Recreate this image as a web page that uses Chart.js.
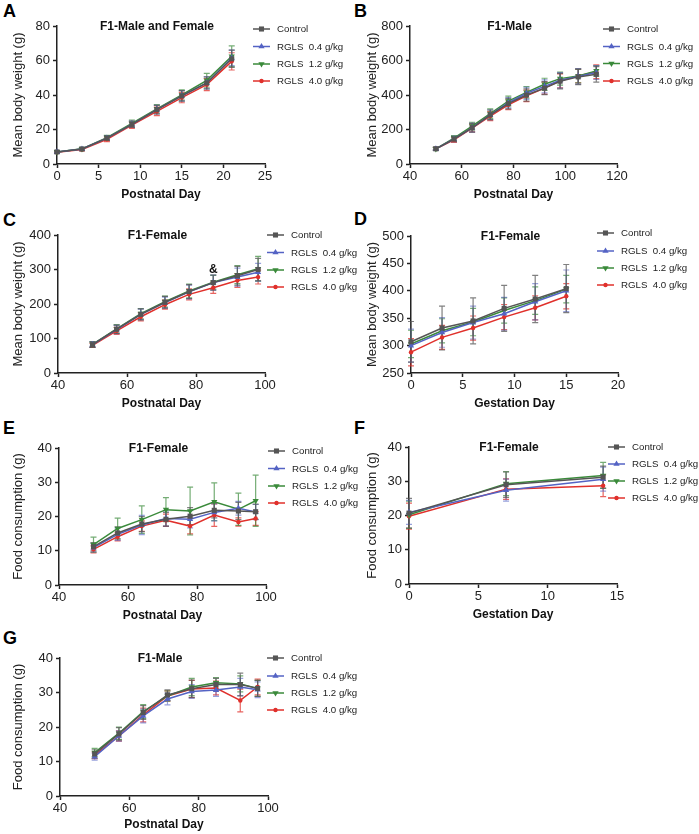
<!DOCTYPE html>
<html><head><meta charset="utf-8">
<script src="https://cdn.jsdelivr.net/npm/chart.js@4/dist/chart.umd.min.js"></script>
<style>
body{margin:0;background:#fff;width:699px;height:834px;position:relative;overflow:hidden;font-family:"Liberation Sans",Arial,sans-serif}
canvas{position:absolute}
.lbl{position:absolute;font-weight:bold;font-size:18px;line-height:18px;color:#000;font-family:"Liberation Sans",Arial,sans-serif}
</style></head>
<body>
<div class="lbl" style="left:3px;top:2px">A</div>
<div class="lbl" style="left:354px;top:2px">B</div>
<div class="lbl" style="left:3px;top:211px">C</div>
<div class="lbl" style="left:354px;top:210px">D</div>
<div class="lbl" style="left:3px;top:419px">E</div>
<div class="lbl" style="left:354px;top:419px">F</div>
<div class="lbl" style="left:3px;top:629px">G</div>
<script>
// ---------- DATA ----------
const seriesNames = ['Control', 'RGLS  0.4 g/kg', 'RGLS  1.2 g/kg', 'RGLS  4.0 g/kg'];

// Panel A: F1-Male and Female, mean body weight vs postnatal day
const aDays = [0, 3, 6, 9, 12, 15, 18, 21];
const aCtrl = [7, 8.7, 15, 23, 31.5, 39.5, 47, 61];
const aLow  = [7, 8.7, 15, 23, 31.5, 39.5, 47, 61.5];
const aMid  = [7, 8.8, 15.3, 23.5, 32, 40, 48.5, 62.5];
const aHigh = [6.8, 8.4, 14.3, 22.5, 30.5, 38.5, 46, 59.5];
const aCtrlErr = [0.7, 0.8, 1.3, 1.8, 2.5, 3, 3.5, 5];
const aLowErr  = [0.7, 0.8, 1.3, 1.8, 2.5, 3, 3.5, 4.5];
const aMidErr  = [0.7, 0.8, 1.3, 2, 2.5, 3, 4, 6];
const aHighErr = [0.7, 0.8, 1.3, 1.8, 2.5, 3, 3.5, 5];

// Panel B: F1-Male body weight
const bDays = [50, 57, 64, 71, 78, 85, 92, 98, 105, 112];
const bCtrl = [88, 145, 210, 285, 350, 400, 440, 480, 505, 520];
const bLow  = [88, 145, 210, 285, 355, 410, 450, 485, 508, 530];
const bMid  = [88, 150, 220, 292, 365, 415, 462, 495, 510, 540];
const bHigh = [88, 140, 208, 278, 343, 395, 440, 482, 510, 535];
const bCtrlErr = [8, 15, 25, 28, 30, 35, 38, 45, 45, 45];
const bLowErr  = [8, 15, 25, 28, 30, 35, 38, 45, 45, 40];
const bMidErr  = [8, 15, 22, 28, 28, 33, 35, 38, 40, 30];
const bHighErr = [8, 15, 22, 26, 28, 33, 35, 40, 40, 40];

// Panel C: F1-Female body weight
const cDays = [50, 57, 64, 71, 78, 85, 92, 98];
const cCtrl = [82, 127, 170, 205, 236, 262, 282, 300];
const cLow  = [82, 126, 170, 204, 235, 262, 278, 292];
const cMid  = [83, 128, 172, 207, 238, 263, 285, 302];
const cHigh = [80, 122, 163, 198, 228, 247, 268, 278];
const cCtrlErr = [8, 12, 16, 17, 20, 22, 27, 32];
const cLowErr  = [8, 12, 15, 16, 20, 22, 26, 26];
const cMidErr  = [8, 12, 15, 16, 20, 20, 26, 36];
const cHighErr = [6, 10, 12, 13, 16, 16, 20, 20];
const cNotes = [{x: 85, y: 299, text: '&'}];

// Panel D: F1-Female body weight vs gestation day
const dDays = [0, 3, 6, 9, 12, 15];
const dCtrl = [307, 332, 345, 368, 385, 404];
const dLow  = [300, 324, 342, 358, 380, 400];
const dMid  = [303, 327, 343, 364, 382, 403];
const dHigh = [288, 315, 332, 352, 369, 390];
const dCtrlErr = [37, 40, 42, 42, 43, 44];
const dLowErr  = [30, 27, 30, 30, 33, 38];
const dMidErr  = [25, 22, 25, 23, 25, 25];
const dHighErr = [25, 22, 22, 23, 22, 23];

// Panel E: F1-Female food consumption vs postnatal day
const eDays = [50, 57, 64, 71, 78, 85, 92, 97];
const eCtrl = [11.2, 15.2, 17.8, 19.2, 20.1, 21.8, 21.6, 21.4];
const eLow  = [10.9, 14.8, 17.5, 19.4, 19.2, 21.2, 22.4, 21.3];
const eMid  = [11.8, 16.5, 19.1, 22.0, 21.6, 24.3, 22.1, 24.6];
const eHigh = [10.4, 14.1, 17.2, 18.9, 17.2, 20.4, 18.4, 19.4];
const eCtrlErr = [1.2, 1.8, 2.2, 2.0, 2.5, 2.2, 2.5, 2.2];
const eLowErr  = [1.2, 1.8, 2.8, 2.2, 2.5, 2.5, 2.0, 2.2];
const eMidErr  = [2.2, 3.0, 4.0, 3.5, 7.0, 5.5, 4.7, 7.5];
const eHighErr = [1.0, 1.2, 1.5, 1.8, 2.3, 3.3, 1.2, 2.0];

// Panel F: F1-Female food consumption vs gestation day
const fDays = [0, 7, 14];
const fCtrl = [20.7, 29.0, 31.2];
const fLow  = [20.9, 27.4, 30.6];
const fMid  = [20.2, 29.3, 31.7];
const fHigh = [19.8, 27.7, 28.7];
const fCtrlErr = [4.3, 3.7, 3.2];
const fLowErr  = [3.5, 3.2, 3.5];
const fMidErr  = [4.0, 3.5, 3.8];
const fHighErr = [3.8, 3.0, 3.2];

// Panel G: F1-Male food consumption vs postnatal day
const gDays = [50, 57, 64, 71, 78, 85, 92, 97];
const gCtrl = [12.2, 18.0, 24.2, 29.3, 31.1, 32.3, 32.3, 31.2];
const gLow  = [11.4, 17.4, 23.2, 28.1, 30.3, 30.7, 31.6, 30.8];
const gMid  = [12.6, 18.2, 24.5, 29.0, 31.6, 32.8, 32.5, 31.2];
const gHigh = [11.8, 17.4, 23.5, 29.0, 31.0, 31.3, 27.7, 31.6];
const gCtrlErr = [1.2, 1.8, 2.0, 1.5, 2.5, 1.8, 3.3, 2.3];
const gLowErr  = [1.0, 1.5, 2.0, 1.7, 2.0, 1.8, 2.5, 2.3];
const gMidErr  = [1.2, 1.8, 2.0, 1.5, 2.5, 1.5, 2.3, 2.3];
const gHighErr = [1.0, 1.5, 2.0, 1.5, 2.5, 2.0, 3.3, 2.3];

// ---------- STYLE ----------
const FONT = '"Liberation Sans", Arial, sans-serif';
const colors = ['#555555', '#5463c4', '#3a8a3a', '#e0302b'];
const errColors = ['rgba(85,85,85,0.75)', 'rgba(84,99,196,0.6)', 'rgba(58,138,58,0.7)', 'rgba(224,48,43,0.75)'];
const pStyles = ['rect', 'triangle', 'triangle', 'circle'];
const pRot = [0, 0, 180, 0];
const pRad = [3.6, 3.6, 3.6, 2.2];

function drawMarker(ctx, i, x, y) {
  ctx.save();
  ctx.fillStyle = colors[i];
  ctx.beginPath();
  const r = pRad[i];
  if (i === 0) { const s = r * Math.SQRT1_2; ctx.rect(x - s, y - s, 2 * s, 2 * s); }
  else if (i === 1 || i === 2) {
    const dir = i === 1 ? 1 : -1;
    ctx.moveTo(x, y - dir * r);
    ctx.lineTo(x + r * 0.866, y + dir * r * 0.5);
    ctx.lineTo(x - r * 0.866, y + dir * r * 0.5);
    ctx.closePath();
  } else { ctx.arc(x, y, r, 0, Math.PI * 2); }
  ctx.fill();
  ctx.restore();
}

const panelPlugin = {
  id: 'panelPlugin',
  beforeDatasetsDraw(chart) {
    const ctx = chart.ctx, xs = chart.scales.x, ys = chart.scales.y;
    ctx.save();
    ctx.lineWidth = 1.2;
    for (let i = chart.data.datasets.length - 1; i >= 0; i--) {
      const ds = chart.data.datasets[i];
      ctx.strokeStyle = errColors[i];
      ds.data.forEach((p, j) => {
        const e = ds.err[j];
        const x = xs.getPixelForValue(p.x);
        const y1 = ys.getPixelForValue(p.y + e);
        const y2 = ys.getPixelForValue(p.y - e);
        ctx.beginPath();
        ctx.moveTo(x, y1); ctx.lineTo(x, y2);
        ctx.moveTo(x - 3, y1); ctx.lineTo(x + 3, y1);
        ctx.moveTo(x - 3, y2); ctx.lineTo(x + 3, y2);
        ctx.stroke();
      });
    }
    ctx.restore();
  },
  afterDraw(chart) {
    const ctx = chart.ctx, a = chart.chartArea, o = chart.options.plugins.panelPlugin;
    ctx.save();
    // panel title
    ctx.fillStyle = '#111';
    ctx.font = 'bold 12px ' + FONT;
    ctx.textAlign = 'center';
    ctx.textBaseline = 'middle';
    ctx.fillText(o.title, (a.left + a.right) / 2 - 4, a.top + 1);
    // annotations
    (o.notes || []).forEach(n => {
      ctx.fillText(n.text, chart.scales.x.getPixelForValue(n.x), chart.scales.y.getPixelForValue(n.y));
    });
    // legend
    ctx.font = '9.7px ' + FONT;
    ctx.textAlign = 'left';
    chart.data.datasets.forEach((ds, i) => {
      const y = o.legY[i] - chart.canvas.offsetTop;
      const lx = o.legX - chart.canvas.offsetLeft;
      ctx.strokeStyle = colors[i];
      ctx.lineWidth = 1.5;
      ctx.beginPath(); ctx.moveTo(lx, y); ctx.lineTo(lx + 17, y); ctx.stroke();
      drawMarker(ctx, i, lx + 8.5, y);
      ctx.fillStyle = '#222';
      ctx.fillText(ds.label, lx + 24, y + 0.5);
    });
    ctx.restore();
  }
};

function build(P) {
  const cv = document.createElement('canvas');
  cv.width = P.cw; cv.height = P.ch;
  cv.style.left = P.cx + 'px'; cv.style.top = P.cy + 'px';
  cv.style.width = P.cw + 'px'; cv.style.height = P.ch + 'px';
  document.body.appendChild(cv);
  const pl = P.tX - P.cx - 7.8;
  const yW = P.l - P.cx - pl;
  const pt = P.t - P.cy;
  const pr = P.cx + P.cw - P.r;
  const xBottom = P.tY + 7.2;
  const xH = xBottom - P.b;
  const pb = P.cy + P.ch - xBottom;
  const datasets = P.series.map((vals, i) => ({
    label: seriesNames[i],
    data: vals.map((v, j) => ({x: P.days[j], y: v})),
    err: P.errs[i],
    borderColor: colors[i],
    backgroundColor: colors[i],
    borderWidth: 1.5,
    pointStyle: pStyles[i],
    pointRotation: pRot[i],
    pointRadius: pRad[i],
    pointBorderWidth: 0,
    tension: 0,
    clip: false
  }));
  const axisCommon = (min, max, step, title, isY) => ({
    type: 'linear', min, max,
    ticks: {stepSize: step, color: '#222', font: {size: 13, family: FONT}, padding: isY ? 3 : 1, maxRotation: 0, autoSkip: false},
    grid: {drawOnChartArea: false, drawTicks: true, tickLength: 4, tickColor: '#222', tickWidth: 1.5, color: '#222'},
    border: {color: '#222', width: 1.5},
    title: {display: true, text: title, color: isY ? '#222' : '#111', padding: 0,
      font: isY ? {size: 13, family: FONT} : {size: 12, weight: 'bold', family: FONT}},
    afterFit(s) { if (isY) s.width = yW; else s.height = xH; }
  });
  new Chart(cv, {
    type: 'line',
    data: {datasets},
    options: {
      responsive: false, animation: false, devicePixelRatio: 1,
      layout: {padding: {left: pl, top: pt, right: pr, bottom: pb}},
      plugins: {legend: {display: false}, tooltip: {enabled: false},
        panelPlugin: {title: P.title, legX: P.legX, legY: P.legY, notes: P.notes}},
      scales: {
        x: axisCommon(P.xr[0], P.xr[1], P.xr[2], P.xTitle, false),
        y: axisCommon(P.yr[0], P.yr[1], P.yr[2], P.yTitle, true)
      }
    },
    plugins: [panelPlugin]
  });
}

Chart.defaults.font.family = FONT;

build({cx: 0, cy: 0, cw: 380, ch: 205, l: 57, t: 26, r: 265, b: 164, tX: 18, tY: 195,
  days: aDays, series: [aCtrl, aLow, aMid, aHigh], errs: [aCtrlErr, aLowErr, aMidErr, aHighErr],
  xr: [0, 25, 5], yr: [0, 80, 20], xTitle: 'Postnatal Day', yTitle: 'Mean body weight (g)',
  title: 'F1-Male and Female', legX: 253, legY: [29, 46.5, 64, 81]});
build({cx: 340, cy: 0, cw: 359, ch: 205, l: 410, t: 26, r: 617, b: 164, tX: 372, tY: 195,
  days: bDays, series: [bCtrl, bLow, bMid, bHigh], errs: [bCtrlErr, bLowErr, bMidErr, bHighErr],
  xr: [40, 120, 20], yr: [0, 800, 200], xTitle: 'Postnatal Day', yTitle: 'Mean body weight (g)',
  title: 'F1-Male', legX: 603, legY: [29, 46.5, 63.5, 81]});
build({cx: 0, cy: 200, cw: 380, ch: 215, l: 58, t: 235, r: 265, b: 373, tX: 18, tY: 404,
  days: cDays, series: [cCtrl, cLow, cMid, cHigh], errs: [cCtrlErr, cLowErr, cMidErr, cHighErr],
  xr: [40, 100, 20], yr: [0, 400, 100], xTitle: 'Postnatal Day', yTitle: 'Mean body weight (g)',
  title: 'F1-Female', legX: 267, legY: [235, 252.5, 270, 287], notes: cNotes});
build({cx: 340, cy: 200, cw: 359, ch: 215, l: 411, t: 236, r: 618, b: 373, tX: 372, tY: 404,
  days: dDays, series: [dCtrl, dLow, dMid, dHigh], errs: [dCtrlErr, dLowErr, dMidErr, dHighErr],
  xr: [0, 20, 5], yr: [250, 500, 50], xTitle: 'Gestation Day', yTitle: 'Mean body weight (g)',
  title: 'F1-Female', legX: 597, legY: [233, 251, 268, 285]});
build({cx: 0, cy: 410, cw: 380, ch: 215, l: 59, t: 448, r: 266, b: 585, tX: 18, tY: 616,
  days: eDays, series: [eCtrl, eLow, eMid, eHigh], errs: [eCtrlErr, eLowErr, eMidErr, eHighErr],
  xr: [40, 100, 20], yr: [0, 40, 10], xTitle: 'Postnatal Day', yTitle: 'Food consumption (g)',
  title: 'F1-Female', legX: 268, legY: [451, 468.5, 486, 503]});
build({cx: 340, cy: 410, cw: 359, ch: 215, l: 409, t: 447, r: 617, b: 584, tX: 372, tY: 615,
  days: fDays, series: [fCtrl, fLow, fMid, fHigh], errs: [fCtrlErr, fLowErr, fMidErr, fHighErr],
  xr: [0, 15, 5], yr: [0, 40, 10], xTitle: 'Gestation Day', yTitle: 'Food consumption (g)',
  title: 'F1-Female', legX: 608, legY: [447, 464, 481, 498]});
build({cx: 0, cy: 620, cw: 380, ch: 214, l: 60, t: 658, r: 268, b: 796, tX: 18, tY: 825,
  days: gDays, series: [gCtrl, gLow, gMid, gHigh], errs: [gCtrlErr, gLowErr, gMidErr, gHighErr],
  xr: [40, 100, 20], yr: [0, 40, 10], xTitle: 'Postnatal Day', yTitle: 'Food consumption (g)',
  title: 'F1-Male', legX: 267, legY: [658, 676, 693, 710]});
</script>
</body></html>
